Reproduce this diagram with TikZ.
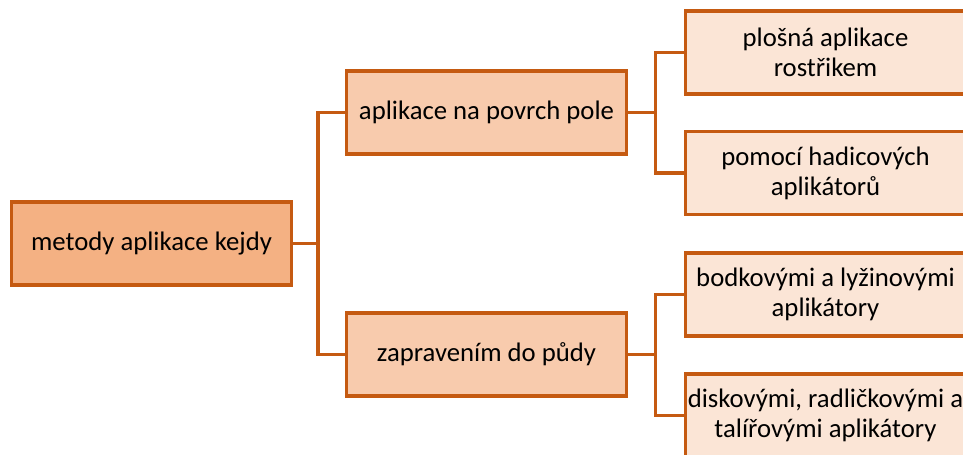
\documentclass[tikz,border=0pt]{standalone}
\usepackage{fontspec}
\setmainfont{Carlito}
\usetikzlibrary{positioning}
\definecolor{kraj}{HTML}{C55A11}
\definecolor{tmava}{HTML}{F4B183}
\definecolor{stredni}{HTML}{F8CBAD}
\definecolor{svetla}{HTML}{FBE5D6}

\begin{document}
\begin{tikzpicture}[x=0.025cm, y=-0.025cm,
  box/.style={draw=kraj, line width=2.2pt, minimum width=7cm, minimum height=2.075cm,
    inner sep=0pt, align=center, font=\fontsize{19}{21.5}\selectfont},
  spoj/.style={draw=kraj, line width=2.2pt}]
\useasboundingbox (0,0) rectangle (963,455);
\clip (0,0) rectangle (963,455);

\node[box, fill=tmava] (metody) at (151.5,243.5) {metody aplikace kejdy};
\node[box, fill=stredni] (povrch) at (486.5,112.5) {aplikace na povrch pole};
\node[box, fill=stredni] (puda) at (486.5,354.5) {zapravením do půdy};
\node[box, fill=svetla] (rostrik) at (825.5,52.5) {plošná aplikace\\rostřikem};
\node[box, fill=svetla] (hadice) at (825.5,173) {pomocí hadicových\\aplikátorů};
\node[box, fill=svetla] (lyzina) at (825.5,294.5) {bodkovými a lyžinovými\\aplikátory};
\node[box, fill=svetla] (disky) at (825.5,415.5) {diskovými, radličkovými a\\talířovými aplikátory};

% rozcestí
\coordinate (rozc1) at (318,243.5);
\coordinate (rozc2) at (655.5,112.5);
\coordinate (rozc3) at (655.5,354.5);

\draw[spoj] (metody.east) -- (rozc1);
\draw[spoj] (povrch.west) -| (rozc1) |- (puda.west);
\draw[spoj] (povrch.east) -- (rozc2);
\draw[spoj] (rostrik.west) -| (rozc2) |- (hadice.west);
\draw[spoj] (puda.east) -- (rozc3);
\draw[spoj] (lyzina.west) -| (rozc3) |- (disky.west);
\end{tikzpicture}
\end{document}
